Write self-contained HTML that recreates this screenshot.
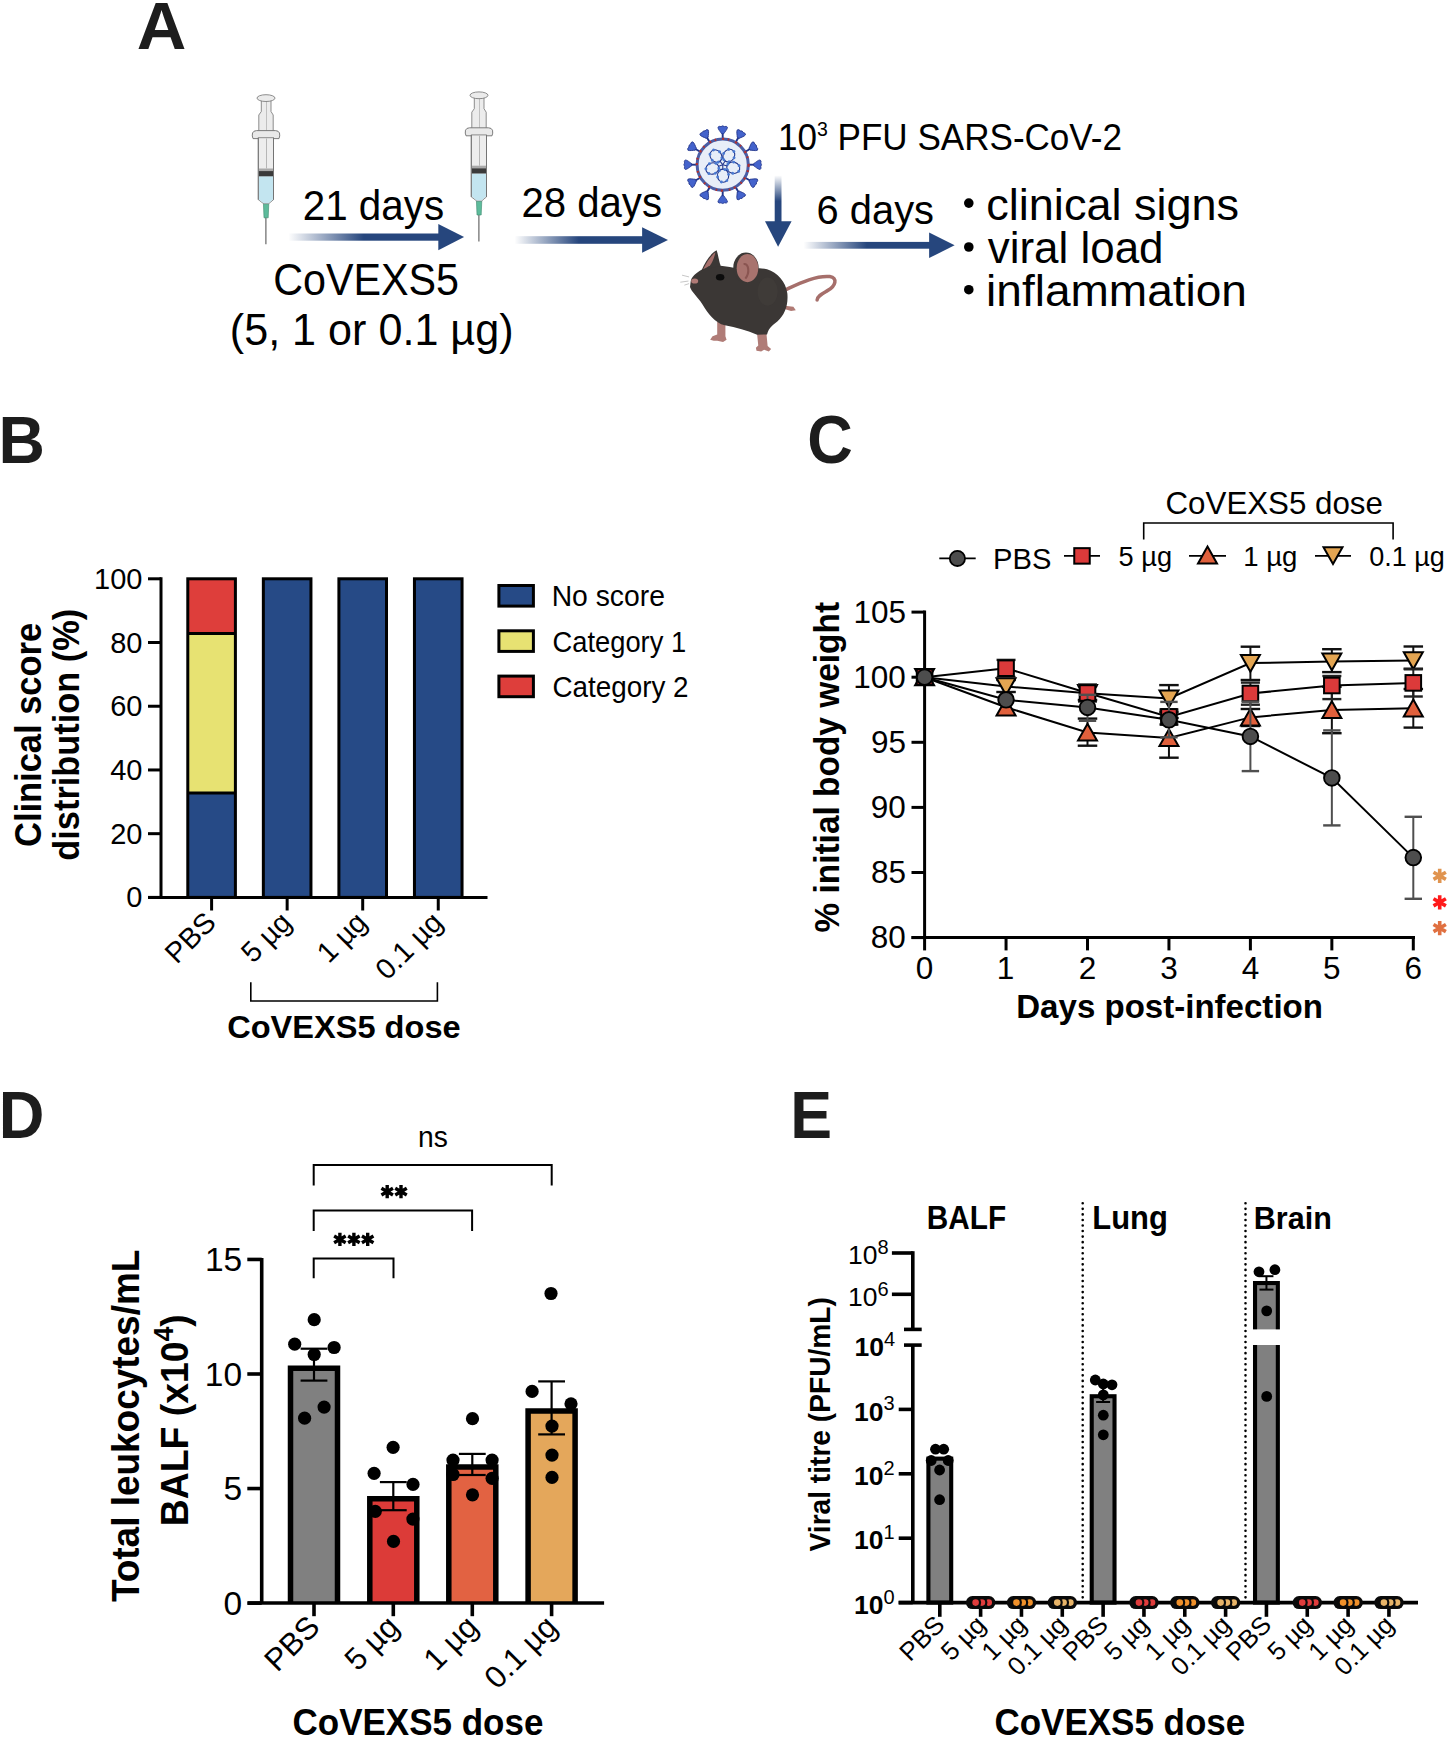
<!DOCTYPE html>
<html><head><meta charset="utf-8"><style>
html,body{margin:0;padding:0;background:#fff;}
svg{display:block;font-family:'Liberation Sans',sans-serif;}
</style></head><body>
<svg width="1450" height="1738" viewBox="0 0 1450 1738" style="font-family:&quot;Liberation Sans&quot;,sans-serif">
<rect width="1450" height="1738" fill="#fff"/>
<text x="136.88" y="49.00" font-size="66.96" font-weight="bold" fill="#1d1d1d" textLength="49.58" lengthAdjust="spacingAndGlyphs">A</text>
<text x="-1.38" y="462.80" font-size="67.39" font-weight="bold" fill="#1d1d1d" textLength="46.41" lengthAdjust="spacingAndGlyphs">B</text>
<text x="807.18" y="462.72" font-size="67.89" font-weight="bold" fill="#1d1d1d" textLength="45.54" lengthAdjust="spacingAndGlyphs">C</text>
<text x="-1.31" y="1137.90" font-size="67.10" font-weight="bold" fill="#1d1d1d" textLength="45.68" lengthAdjust="spacingAndGlyphs">D</text>
<text x="790.33" y="1137.70" font-size="66.52" font-weight="bold" fill="#1d1d1d" textLength="41.79" lengthAdjust="spacingAndGlyphs">E</text>
<defs>
<linearGradient id="gH" x1="0" y1="0" x2="1" y2="0"><stop offset="0" stop-color="#26467d" stop-opacity="0"/><stop offset="0.5" stop-color="#26467d" stop-opacity="1"/><stop offset="1" stop-color="#26467d" stop-opacity="1"/></linearGradient>
<linearGradient id="gV" x1="0" y1="0" x2="0" y2="1"><stop offset="0" stop-color="#26467d" stop-opacity="0"/><stop offset="0.55" stop-color="#26467d" stop-opacity="1"/><stop offset="1" stop-color="#26467d" stop-opacity="1"/></linearGradient>
<g id="syr">
<line x1="265.9" y1="216" x2="265.9" y2="244.2" stroke="#5a5a5a" stroke-width="1.1"/>
<path d="M263.4,203.2 L268.8,203.2 L268.2,217.8 L264.0,217.8 Z" fill="#5dbb9b" stroke="#3d8a6e" stroke-width="0.6"/>
<path d="M261.3,100.5 L271,100.5 L271,111.5 L273.2,115 L273.2,131.5 L258.8,131.5 L258.8,115 L261.3,111.5 Z" fill="#ececec" stroke="#727272" stroke-width="0.8"/>
<line x1="266.5" y1="101" x2="266.5" y2="171" stroke="#b5b5b5" stroke-width="0.8"/>
<path d="M253,138.6 Q251.8,136 252.5,133 Q253.4,130.7 256.5,130.6 L275.5,130.6 Q278.6,130.7 279.5,133 Q280.2,136 279,138.6 Z" fill="#e9e9e9" stroke="#6f6f6f" stroke-width="0.9"/>
<path d="M258.3,137.7 L273.5,137.7 L273.5,199.7 L268.6,203.7 L263.7,203.7 L258.3,199.7 Z" fill="#ededed" stroke="#727272" stroke-width="0.8"/>
<path d="M258.8,176.3 L273,176.3 L273,199.4 L268.5,203.3 L263.8,203.3 L258.8,199.4 Z" fill="#c3e5f0"/>
<rect x="258.8" y="170.9" width="14.2" height="5.4" fill="#3a3a3a"/>
<rect x="258.8" y="168.5" width="14.2" height="2.6" fill="#a9a9a9"/>
<line x1="266.5" y1="138.5" x2="266.5" y2="168.5" stroke="#b0b0b0" stroke-width="0.9"/>
<line x1="258.3" y1="137.7" x2="258.3" y2="199.7" stroke="#727272" stroke-width="0.9"/>
<line x1="273.5" y1="137.7" x2="273.5" y2="199.7" stroke="#727272" stroke-width="0.9"/>
<ellipse cx="266" cy="98.1" rx="9" ry="3.4" fill="#ebebeb" stroke="#727272" stroke-width="0.8"/>
</g>
</defs>
<use href="#syr"/>
<use href="#syr" transform="translate(213,-2.8)"/>
<rect x="288.3" y="233.50" width="151.00" height="7.2" fill="url(#gH)"/>
<path d="M438.3,224.00 L464.1,237.10 L438.3,250.20 Z" fill="#26467d"/>
<rect x="514.5" y="236.20" width="128.60" height="7.6" fill="url(#gH)"/>
<path d="M642.1,227.20 L668.0,240.00 L642.1,252.80 Z" fill="#26467d"/>
<rect x="803.6" y="241.90" width="126.50" height="6.8" fill="url(#gH)"/>
<path d="M929.1,232.50 L954.6,245.30 L929.1,258.10 Z" fill="#26467d"/>
<rect x="774.70" y="175.3" width="6.8" height="47.00" fill="url(#gV)"/>
<path d="M765,221.3 L778.1,246.7 L791.6,221.3 Z" fill="#26467d"/>
<g transform="translate(722.7,164.7) rotate(0)"><line x1="0" y1="-26" x2="0" y2="-32" stroke="#22358a" stroke-width="1.9"/><path d="M-1.1,-31 C-2.2,-33 -4.6,-35 -4.8,-37.4 Q-3.8,-39 -1.7,-38.1 Q0,-39.6 1.7,-38.1 Q3.8,-39 4.8,-37.4 C4.6,-35 2.2,-33 1.1,-31 Z" fill="#4463cc" stroke="#22358a" stroke-width="0.8" stroke-linejoin="round"/></g><g transform="translate(722.7,164.7) rotate(30)"><line x1="0" y1="-26" x2="0" y2="-32" stroke="#22358a" stroke-width="1.9"/><path d="M-1.1,-31 C-2.2,-33 -4.6,-35 -4.8,-37.4 Q-3.8,-39 -1.7,-38.1 Q0,-39.6 1.7,-38.1 Q3.8,-39 4.8,-37.4 C4.6,-35 2.2,-33 1.1,-31 Z" fill="#4463cc" stroke="#22358a" stroke-width="0.8" stroke-linejoin="round"/></g><g transform="translate(722.7,164.7) rotate(60)"><line x1="0" y1="-26" x2="0" y2="-32" stroke="#22358a" stroke-width="1.9"/><path d="M-1.1,-31 C-2.2,-33 -4.6,-35 -4.8,-37.4 Q-3.8,-39 -1.7,-38.1 Q0,-39.6 1.7,-38.1 Q3.8,-39 4.8,-37.4 C4.6,-35 2.2,-33 1.1,-31 Z" fill="#4463cc" stroke="#22358a" stroke-width="0.8" stroke-linejoin="round"/></g><g transform="translate(722.7,164.7) rotate(90)"><line x1="0" y1="-26" x2="0" y2="-32" stroke="#22358a" stroke-width="1.9"/><path d="M-1.1,-31 C-2.2,-33 -4.6,-35 -4.8,-37.4 Q-3.8,-39 -1.7,-38.1 Q0,-39.6 1.7,-38.1 Q3.8,-39 4.8,-37.4 C4.6,-35 2.2,-33 1.1,-31 Z" fill="#4463cc" stroke="#22358a" stroke-width="0.8" stroke-linejoin="round"/></g><g transform="translate(722.7,164.7) rotate(120)"><line x1="0" y1="-26" x2="0" y2="-32" stroke="#22358a" stroke-width="1.9"/><path d="M-1.1,-31 C-2.2,-33 -4.6,-35 -4.8,-37.4 Q-3.8,-39 -1.7,-38.1 Q0,-39.6 1.7,-38.1 Q3.8,-39 4.8,-37.4 C4.6,-35 2.2,-33 1.1,-31 Z" fill="#4463cc" stroke="#22358a" stroke-width="0.8" stroke-linejoin="round"/></g><g transform="translate(722.7,164.7) rotate(150)"><line x1="0" y1="-26" x2="0" y2="-32" stroke="#22358a" stroke-width="1.9"/><path d="M-1.1,-31 C-2.2,-33 -4.6,-35 -4.8,-37.4 Q-3.8,-39 -1.7,-38.1 Q0,-39.6 1.7,-38.1 Q3.8,-39 4.8,-37.4 C4.6,-35 2.2,-33 1.1,-31 Z" fill="#4463cc" stroke="#22358a" stroke-width="0.8" stroke-linejoin="round"/></g><g transform="translate(722.7,164.7) rotate(180)"><line x1="0" y1="-26" x2="0" y2="-32" stroke="#22358a" stroke-width="1.9"/><path d="M-1.1,-31 C-2.2,-33 -4.6,-35 -4.8,-37.4 Q-3.8,-39 -1.7,-38.1 Q0,-39.6 1.7,-38.1 Q3.8,-39 4.8,-37.4 C4.6,-35 2.2,-33 1.1,-31 Z" fill="#4463cc" stroke="#22358a" stroke-width="0.8" stroke-linejoin="round"/></g><g transform="translate(722.7,164.7) rotate(210)"><line x1="0" y1="-26" x2="0" y2="-32" stroke="#22358a" stroke-width="1.9"/><path d="M-1.1,-31 C-2.2,-33 -4.6,-35 -4.8,-37.4 Q-3.8,-39 -1.7,-38.1 Q0,-39.6 1.7,-38.1 Q3.8,-39 4.8,-37.4 C4.6,-35 2.2,-33 1.1,-31 Z" fill="#4463cc" stroke="#22358a" stroke-width="0.8" stroke-linejoin="round"/></g><g transform="translate(722.7,164.7) rotate(240)"><line x1="0" y1="-26" x2="0" y2="-32" stroke="#22358a" stroke-width="1.9"/><path d="M-1.1,-31 C-2.2,-33 -4.6,-35 -4.8,-37.4 Q-3.8,-39 -1.7,-38.1 Q0,-39.6 1.7,-38.1 Q3.8,-39 4.8,-37.4 C4.6,-35 2.2,-33 1.1,-31 Z" fill="#4463cc" stroke="#22358a" stroke-width="0.8" stroke-linejoin="round"/></g><g transform="translate(722.7,164.7) rotate(270)"><line x1="0" y1="-26" x2="0" y2="-32" stroke="#22358a" stroke-width="1.9"/><path d="M-1.1,-31 C-2.2,-33 -4.6,-35 -4.8,-37.4 Q-3.8,-39 -1.7,-38.1 Q0,-39.6 1.7,-38.1 Q3.8,-39 4.8,-37.4 C4.6,-35 2.2,-33 1.1,-31 Z" fill="#4463cc" stroke="#22358a" stroke-width="0.8" stroke-linejoin="round"/></g><g transform="translate(722.7,164.7) rotate(300)"><line x1="0" y1="-26" x2="0" y2="-32" stroke="#22358a" stroke-width="1.9"/><path d="M-1.1,-31 C-2.2,-33 -4.6,-35 -4.8,-37.4 Q-3.8,-39 -1.7,-38.1 Q0,-39.6 1.7,-38.1 Q3.8,-39 4.8,-37.4 C4.6,-35 2.2,-33 1.1,-31 Z" fill="#4463cc" stroke="#22358a" stroke-width="0.8" stroke-linejoin="round"/></g><g transform="translate(722.7,164.7) rotate(330)"><line x1="0" y1="-26" x2="0" y2="-32" stroke="#22358a" stroke-width="1.9"/><path d="M-1.1,-31 C-2.2,-33 -4.6,-35 -4.8,-37.4 Q-3.8,-39 -1.7,-38.1 Q0,-39.6 1.7,-38.1 Q3.8,-39 4.8,-37.4 C4.6,-35 2.2,-33 1.1,-31 Z" fill="#4463cc" stroke="#22358a" stroke-width="0.8" stroke-linejoin="round"/></g>
<circle cx="722.7" cy="164.7" r="25.6" fill="#e8eef8" stroke="#4a5ea6" stroke-width="3"/>
<circle cx="722.7" cy="164.7" r="25.9" fill="none" stroke="#b3302e" stroke-width="2.2" stroke-dasharray="2.2 3.6 1.6 6"/>
<g transform="translate(722.7,164.7) rotate(-128)"><path d="M0,0 L5,0" stroke="#23368c" stroke-width="1.1"/><ellipse cx="11" cy="0" rx="6.6" ry="5.6" fill="none" stroke="#23368c" stroke-width="1.1"/><circle cx="17.20" cy="1.92" r="1.45" fill="#4a7ad2"/><circle cx="12.15" cy="5.51" r="1.45" fill="#4a7ad2"/><circle cx="5.94" cy="3.60" r="1.45" fill="#4a7ad2"/><circle cx="4.80" cy="-1.92" r="1.45" fill="#4a7ad2"/><circle cx="9.85" cy="-5.51" r="1.45" fill="#4a7ad2"/><circle cx="16.06" cy="-3.60" r="1.45" fill="#4a7ad2"/></g><g transform="translate(722.7,164.7) rotate(-56)"><path d="M0,0 L5,0" stroke="#23368c" stroke-width="1.1"/><ellipse cx="11" cy="0" rx="6.6" ry="5.6" fill="none" stroke="#23368c" stroke-width="1.1"/><circle cx="17.20" cy="1.92" r="1.45" fill="#4a7ad2"/><circle cx="12.15" cy="5.51" r="1.45" fill="#4a7ad2"/><circle cx="5.94" cy="3.60" r="1.45" fill="#4a7ad2"/><circle cx="4.80" cy="-1.92" r="1.45" fill="#4a7ad2"/><circle cx="9.85" cy="-5.51" r="1.45" fill="#4a7ad2"/><circle cx="16.06" cy="-3.60" r="1.45" fill="#4a7ad2"/></g><g transform="translate(722.7,164.7) rotate(16)"><path d="M0,0 L5,0" stroke="#23368c" stroke-width="1.1"/><ellipse cx="11" cy="0" rx="6.6" ry="5.6" fill="none" stroke="#23368c" stroke-width="1.1"/><circle cx="17.20" cy="1.92" r="1.45" fill="#4a7ad2"/><circle cx="12.15" cy="5.51" r="1.45" fill="#4a7ad2"/><circle cx="5.94" cy="3.60" r="1.45" fill="#4a7ad2"/><circle cx="4.80" cy="-1.92" r="1.45" fill="#4a7ad2"/><circle cx="9.85" cy="-5.51" r="1.45" fill="#4a7ad2"/><circle cx="16.06" cy="-3.60" r="1.45" fill="#4a7ad2"/></g><g transform="translate(722.7,164.7) rotate(88)"><path d="M0,0 L5,0" stroke="#23368c" stroke-width="1.1"/><ellipse cx="11" cy="0" rx="6.6" ry="5.6" fill="none" stroke="#23368c" stroke-width="1.1"/><circle cx="17.20" cy="1.92" r="1.45" fill="#4a7ad2"/><circle cx="12.15" cy="5.51" r="1.45" fill="#4a7ad2"/><circle cx="5.94" cy="3.60" r="1.45" fill="#4a7ad2"/><circle cx="4.80" cy="-1.92" r="1.45" fill="#4a7ad2"/><circle cx="9.85" cy="-5.51" r="1.45" fill="#4a7ad2"/><circle cx="16.06" cy="-3.60" r="1.45" fill="#4a7ad2"/></g><g transform="translate(722.7,164.7) rotate(160)"><path d="M0,0 L5,0" stroke="#23368c" stroke-width="1.1"/><ellipse cx="11" cy="0" rx="6.6" ry="5.6" fill="none" stroke="#23368c" stroke-width="1.1"/><circle cx="17.20" cy="1.92" r="1.45" fill="#4a7ad2"/><circle cx="12.15" cy="5.51" r="1.45" fill="#4a7ad2"/><circle cx="5.94" cy="3.60" r="1.45" fill="#4a7ad2"/><circle cx="4.80" cy="-1.92" r="1.45" fill="#4a7ad2"/><circle cx="9.85" cy="-5.51" r="1.45" fill="#4a7ad2"/><circle cx="16.06" cy="-3.60" r="1.45" fill="#4a7ad2"/></g>
<g transform="translate(675,240) scale(0.11725)">
<path d="M940,425 C1050,375 1200,300 1320,312 C1390,322 1372,392 1300,432 C1255,458 1212,478 1212,512" fill="none" stroke="#a66f6b" stroke-width="30" stroke-linecap="round"/>
<path d="M935,560 L1010,570 L1030,600 L990,605 L940,590 Z" fill="#b07a74"/>
<path d="M700,800 L780,800 L790,905 L820,930 L800,950 L760,935 L735,950 L695,945 L690,920 L710,900 Z" fill="#b07c77"/>
<path d="M360,700 L430,700 L430,820 L440,850 L410,870 L360,860 L330,860 L300,850 L320,820 L360,805 Z" fill="#b07c77"/>
<path d="M135,345 C150,300 200,262 255,240 L300,215 C380,212 450,228 510,238 C600,250 700,232 785,250 C875,280 945,355 958,455 C968,555 935,640 875,692 C840,722 800,742 785,805 L700,808 C620,775 520,745 425,728 C340,705 280,625 232,545 C192,482 140,442 128,400 Z" fill="#3b3735"/>
<path d="M225,262 C260,180 310,110 355,88 C370,130 375,185 390,220 C330,235 270,250 225,262 Z" fill="#3b3735"/>
<path d="M240,250 C270,185 310,130 345,105 C335,150 320,190 300,215 C280,228 260,240 240,250 Z" fill="#a66f6b"/>
<ellipse cx="605" cy="235" rx="108" ry="128" fill="#3b3735"/>
<ellipse cx="618" cy="240" rx="92" ry="120" fill="#a8736e"/>
<path d="M585,205 C630,200 640,280 600,330" fill="none" stroke="#8a5551" stroke-width="18"/>
<ellipse cx="790" cy="440" rx="85" ry="120" fill="#423d3b" opacity="0.7"/>
<ellipse cx="168" cy="350" rx="30" ry="22" fill="#b07a76"/>
<ellipse cx="385" cy="318" rx="36" ry="28" fill="#0c0c0c"/>
<path d="M60,300 L120,315 M45,360 L115,350 M80,385 L120,372" stroke="#888" stroke-width="4" fill="none"/>
</g>
<text x="302.78" y="219.70" font-size="42.00" font-weight="normal" fill="#000" textLength="141.33" lengthAdjust="spacingAndGlyphs">21 days</text>
<text x="521.39" y="216.90" font-size="42.00" font-weight="normal" fill="#000" textLength="140.61" lengthAdjust="spacingAndGlyphs">28 days</text>
<text x="816.61" y="223.60" font-size="41.00" font-weight="normal" fill="#000" textLength="117.44" lengthAdjust="spacingAndGlyphs">6 days</text>
<text x="778.0" y="150.2" font-size="37.8" fill="#000" textLength="344" lengthAdjust="spacingAndGlyphs">10<tspan font-size="21" dy="-14.1">3</tspan><tspan dy="14.1"> PFU SARS-CoV-2</tspan></text>
<text x="273.14" y="294.90" font-size="44.50" font-weight="normal" fill="#000" textLength="185.93" lengthAdjust="spacingAndGlyphs">CoVEXS5</text>
<text x="229.81" y="344.60" font-size="45.00" font-weight="normal" fill="#000" textLength="283.76" lengthAdjust="spacingAndGlyphs">(5, 1 or 0.1 µg)</text>
<circle cx="968.80" cy="203.10" r="4.80" fill="#000" stroke="none" stroke-width="0"/>
<text x="986.30" y="220.20" font-size="44.50" font-weight="normal" fill="#000" textLength="252.81" lengthAdjust="spacingAndGlyphs">clinical signs</text>
<circle cx="968.80" cy="247.00" r="4.80" fill="#000" stroke="none" stroke-width="0"/>
<text x="987.78" y="263.00" font-size="44.50" font-weight="normal" fill="#000" textLength="175.77" lengthAdjust="spacingAndGlyphs">viral load</text>
<circle cx="968.80" cy="289.70" r="4.80" fill="#000" stroke="none" stroke-width="0"/>
<text x="986.11" y="305.80" font-size="44.50" font-weight="normal" fill="#000" textLength="260.84" lengthAdjust="spacingAndGlyphs">inflammation</text>
<rect x="187.80" y="793.00" width="47.60" height="104.40" fill="#264a86" stroke="none" stroke-width="0"/>
<rect x="187.80" y="633.40" width="47.60" height="159.60" fill="#e7e272" stroke="none" stroke-width="0"/>
<rect x="187.80" y="578.80" width="47.60" height="54.60" fill="#de3e3b" stroke="none" stroke-width="0"/>
<line x1="187.80" y1="793.00" x2="235.40" y2="793.00" stroke="#000" stroke-width="3"/>
<line x1="187.80" y1="633.40" x2="235.40" y2="633.40" stroke="#000" stroke-width="3"/>
<rect x="187.80" y="578.80" width="47.60" height="318.60" fill="none" stroke="#000" stroke-width="3"/>
<rect x="263.35" y="578.80" width="47.60" height="318.60" fill="#264a86" stroke="#000" stroke-width="3"/>
<rect x="338.90" y="578.80" width="47.60" height="318.60" fill="#264a86" stroke="#000" stroke-width="3"/>
<rect x="414.45" y="578.80" width="47.60" height="318.60" fill="#264a86" stroke="#000" stroke-width="3"/>
<line x1="161.00" y1="577.30" x2="161.00" y2="898.90" stroke="#000" stroke-width="3" stroke-linecap="butt"/>
<line x1="148.00" y1="897.40" x2="161.00" y2="897.40" stroke="#000" stroke-width="3"/>
<line x1="148.00" y1="833.68" x2="161.00" y2="833.68" stroke="#000" stroke-width="3"/>
<line x1="148.00" y1="769.96" x2="161.00" y2="769.96" stroke="#000" stroke-width="3"/>
<line x1="148.00" y1="706.24" x2="161.00" y2="706.24" stroke="#000" stroke-width="3"/>
<line x1="148.00" y1="642.52" x2="161.00" y2="642.52" stroke="#000" stroke-width="3"/>
<line x1="148.00" y1="578.80" x2="161.00" y2="578.80" stroke="#000" stroke-width="3"/>
<line x1="148.00" y1="897.40" x2="487.50" y2="897.40" stroke="#000" stroke-width="3"/>
<line x1="211.60" y1="897.40" x2="211.60" y2="910.50" stroke="#000" stroke-width="3"/>
<line x1="287.15" y1="897.40" x2="287.15" y2="910.50" stroke="#000" stroke-width="3"/>
<line x1="362.70" y1="897.40" x2="362.70" y2="910.50" stroke="#000" stroke-width="3"/>
<line x1="438.25" y1="897.40" x2="438.25" y2="910.50" stroke="#000" stroke-width="3"/>
<text x="126.22" y="907.40" font-size="29.0" fill="#000">0</text>
<text x="110.13" y="843.68" font-size="29.0" fill="#000">20</text>
<text x="110.13" y="779.97" font-size="29.0" fill="#000">40</text>
<text x="110.13" y="716.25" font-size="29.0" fill="#000">60</text>
<text x="110.13" y="652.52" font-size="29.0" fill="#000">80</text>
<text x="94.03" y="588.80" font-size="29.0" fill="#000">100</text>
<text transform="translate(217.60,924.20) rotate(-45)" x="0" y="0" font-size="28.80" font-weight="normal" fill="#000" text-anchor="end">PBS</text>
<text transform="translate(293.15,924.20) rotate(-45)" x="0" y="0" font-size="28.80" font-weight="normal" fill="#000" text-anchor="end">5 µg</text>
<text transform="translate(368.70,924.20) rotate(-45)" x="0" y="0" font-size="28.80" font-weight="normal" fill="#000" text-anchor="end">1 µg</text>
<text transform="translate(444.25,924.20) rotate(-45)" x="0" y="0" font-size="28.80" font-weight="normal" fill="#000" text-anchor="end">0.1 µg</text>
<path d="M250.8,982.2 V1001 H437.4 V982.2" fill="none" stroke="#000" stroke-width="1.6"/>
<text x="227.20" y="1037.68" font-size="31.70" font-weight="bold" fill="#000" textLength="233.42" lengthAdjust="spacingAndGlyphs">CoVEXS5 dose</text>
<rect x="498.90" y="585.50" width="34.50" height="20.60" fill="#264a86" stroke="#000" stroke-width="3"/>
<text x="551.64" y="606.10" font-size="29.00" font-weight="normal" fill="#000" textLength="113.28" lengthAdjust="spacingAndGlyphs">No score</text>
<rect x="498.90" y="630.80" width="34.50" height="20.60" fill="#e7e272" stroke="#000" stroke-width="3"/>
<text x="552.54" y="651.60" font-size="29.00" font-weight="normal" fill="#000" textLength="133.54" lengthAdjust="spacingAndGlyphs">Category 1</text>
<rect x="498.90" y="676.10" width="34.50" height="20.60" fill="#de3e3b" stroke="#000" stroke-width="3"/>
<text x="552.51" y="697.00" font-size="29.00" font-weight="normal" fill="#000" textLength="136.03" lengthAdjust="spacingAndGlyphs">Category 2</text>
<text transform="translate(40.63,846.98) rotate(-90)" x="0" y="0" font-size="37.14" font-weight="bold" fill="#000" textLength="224.09" lengthAdjust="spacingAndGlyphs">Clinical score</text>
<text transform="translate(79.39,860.67) rotate(-90)" x="0" y="0" font-size="36.26" font-weight="bold" fill="#000" textLength="251.79" lengthAdjust="spacingAndGlyphs">distribution (%)</text>
<line x1="924.60" y1="610.60" x2="924.60" y2="939.10" stroke="#000" stroke-width="3"/>
<line x1="911.50" y1="937.60" x2="924.60" y2="937.60" stroke="#000" stroke-width="3"/>
<line x1="911.50" y1="872.50" x2="924.60" y2="872.50" stroke="#000" stroke-width="3"/>
<line x1="911.50" y1="807.40" x2="924.60" y2="807.40" stroke="#000" stroke-width="3"/>
<line x1="911.50" y1="742.30" x2="924.60" y2="742.30" stroke="#000" stroke-width="3"/>
<line x1="911.50" y1="677.20" x2="924.60" y2="677.20" stroke="#000" stroke-width="3"/>
<line x1="911.50" y1="612.10" x2="924.60" y2="612.10" stroke="#000" stroke-width="3"/>
<line x1="911.50" y1="937.60" x2="1415.00" y2="937.60" stroke="#000" stroke-width="3"/>
<line x1="924.60" y1="937.60" x2="924.60" y2="950.40" stroke="#000" stroke-width="3"/>
<line x1="1006.05" y1="937.60" x2="1006.05" y2="950.40" stroke="#000" stroke-width="3"/>
<line x1="1087.50" y1="937.60" x2="1087.50" y2="950.40" stroke="#000" stroke-width="3"/>
<line x1="1168.95" y1="937.60" x2="1168.95" y2="950.40" stroke="#000" stroke-width="3"/>
<line x1="1250.40" y1="937.60" x2="1250.40" y2="950.40" stroke="#000" stroke-width="3"/>
<line x1="1331.85" y1="937.60" x2="1331.85" y2="950.40" stroke="#000" stroke-width="3"/>
<line x1="1413.30" y1="937.60" x2="1413.30" y2="950.40" stroke="#000" stroke-width="3"/>
<text x="870.74" y="948.47" font-size="31.5" fill="#000">80</text>
<text x="870.89" y="883.37" font-size="31.5" fill="#000">85</text>
<text x="870.74" y="818.27" font-size="31.5" fill="#000">90</text>
<text x="870.89" y="753.17" font-size="31.5" fill="#000">95</text>
<text x="853.25" y="688.07" font-size="31.5" fill="#000">100</text>
<text x="853.41" y="622.97" font-size="31.5" fill="#000">105</text>
<text x="915.78" y="978.68" font-size="31.5" fill="#000">0</text>
<text x="996.84" y="979.00" font-size="31.5" fill="#000">1</text>
<text x="1078.76" y="979.00" font-size="31.5" fill="#000">2</text>
<text x="1160.21" y="978.68" font-size="31.5" fill="#000">3</text>
<text x="1241.82" y="979.00" font-size="31.5" fill="#000">4</text>
<text x="1323.11" y="978.68" font-size="31.5" fill="#000">5</text>
<text x="1404.40" y="978.68" font-size="31.5" fill="#000">6</text>
<text x="1016.25" y="1017.69" font-size="32.41" font-weight="bold" fill="#000" textLength="306.70" lengthAdjust="spacingAndGlyphs">Days post-infection</text>
<text transform="translate(838.70,932.54) rotate(-90)" x="0" y="0" font-size="34.76" font-weight="bold" fill="#000" textLength="330.61" lengthAdjust="spacingAndGlyphs">% initial body weight</text>
<line x1="1006.05" y1="680.00" x2="1006.05" y2="692.00" stroke="#111" stroke-width="2"/>
<line x1="996.30" y1="680.00" x2="1015.80" y2="680.00" stroke="#111" stroke-width="2.4"/>
<line x1="996.30" y1="692.00" x2="1015.80" y2="692.00" stroke="#111" stroke-width="2.4"/>
<line x1="1087.50" y1="686.00" x2="1087.50" y2="700.00" stroke="#111" stroke-width="2"/>
<line x1="1077.75" y1="686.00" x2="1097.25" y2="686.00" stroke="#111" stroke-width="2.4"/>
<line x1="1077.75" y1="700.00" x2="1097.25" y2="700.00" stroke="#111" stroke-width="2.4"/>
<line x1="1168.95" y1="685.10" x2="1168.95" y2="711.90" stroke="#111" stroke-width="2"/>
<line x1="1159.20" y1="685.10" x2="1178.70" y2="685.10" stroke="#111" stroke-width="2.4"/>
<line x1="1159.20" y1="711.90" x2="1178.70" y2="711.90" stroke="#111" stroke-width="2.4"/>
<line x1="1250.40" y1="646.70" x2="1250.40" y2="680.00" stroke="#111" stroke-width="2"/>
<line x1="1240.65" y1="646.70" x2="1260.15" y2="646.70" stroke="#111" stroke-width="2.4"/>
<line x1="1240.65" y1="680.00" x2="1260.15" y2="680.00" stroke="#111" stroke-width="2.4"/>
<line x1="1331.85" y1="649.20" x2="1331.85" y2="672.10" stroke="#111" stroke-width="2"/>
<line x1="1322.10" y1="649.20" x2="1341.60" y2="649.20" stroke="#111" stroke-width="2.4"/>
<line x1="1322.10" y1="672.10" x2="1341.60" y2="672.10" stroke="#111" stroke-width="2.4"/>
<line x1="1413.30" y1="646.50" x2="1413.30" y2="668.70" stroke="#111" stroke-width="2"/>
<line x1="1403.55" y1="646.50" x2="1423.05" y2="646.50" stroke="#111" stroke-width="2.4"/>
<line x1="1403.55" y1="668.70" x2="1423.05" y2="668.70" stroke="#111" stroke-width="2.4"/>
<polyline points="924.60,677.20 1006.05,686.40 1087.50,693.20 1168.95,698.50 1250.40,663.10 1331.85,661.60 1413.30,660.40" fill="none" stroke="#000" stroke-width="2"/>
<path d="M924.60,685.90 L934.10,669.10 L915.10,669.10 Z" fill="#e3a552" stroke="#000" stroke-width="2"/>
<path d="M1006.05,695.10 L1015.55,678.30 L996.55,678.30 Z" fill="#e3a552" stroke="#000" stroke-width="2"/>
<path d="M1087.50,701.90 L1097.00,685.10 L1078.00,685.10 Z" fill="#e3a552" stroke="#000" stroke-width="2"/>
<path d="M1168.95,707.20 L1178.45,690.40 L1159.45,690.40 Z" fill="#e3a552" stroke="#000" stroke-width="2"/>
<path d="M1250.40,671.80 L1259.90,655.00 L1240.90,655.00 Z" fill="#e3a552" stroke="#000" stroke-width="2"/>
<path d="M1331.85,670.30 L1341.35,653.50 L1322.35,653.50 Z" fill="#e3a552" stroke="#000" stroke-width="2"/>
<path d="M1413.30,669.10 L1422.80,652.30 L1403.80,652.30 Z" fill="#e3a552" stroke="#000" stroke-width="2"/>
<line x1="1087.50" y1="718.60" x2="1087.50" y2="745.70" stroke="#111" stroke-width="2"/>
<line x1="1077.75" y1="718.60" x2="1097.25" y2="718.60" stroke="#111" stroke-width="2.4"/>
<line x1="1077.75" y1="745.70" x2="1097.25" y2="745.70" stroke="#111" stroke-width="2.4"/>
<line x1="1168.95" y1="718.00" x2="1168.95" y2="757.70" stroke="#111" stroke-width="2"/>
<line x1="1159.20" y1="718.00" x2="1178.70" y2="718.00" stroke="#111" stroke-width="2.4"/>
<line x1="1159.20" y1="757.70" x2="1178.70" y2="757.70" stroke="#111" stroke-width="2.4"/>
<line x1="1250.40" y1="709.00" x2="1250.40" y2="726.00" stroke="#111" stroke-width="2"/>
<line x1="1240.65" y1="709.00" x2="1260.15" y2="709.00" stroke="#111" stroke-width="2.4"/>
<line x1="1240.65" y1="726.00" x2="1260.15" y2="726.00" stroke="#111" stroke-width="2.4"/>
<line x1="1331.85" y1="686.80" x2="1331.85" y2="733.20" stroke="#111" stroke-width="2"/>
<line x1="1322.10" y1="686.80" x2="1341.60" y2="686.80" stroke="#111" stroke-width="2.4"/>
<line x1="1322.10" y1="733.20" x2="1341.60" y2="733.20" stroke="#111" stroke-width="2.4"/>
<line x1="1413.30" y1="689.00" x2="1413.30" y2="727.60" stroke="#111" stroke-width="2"/>
<line x1="1403.55" y1="689.00" x2="1423.05" y2="689.00" stroke="#111" stroke-width="2.4"/>
<line x1="1403.55" y1="727.60" x2="1423.05" y2="727.60" stroke="#111" stroke-width="2.4"/>
<polyline points="924.60,677.20 1006.05,707.30 1087.50,732.50 1168.95,738.00 1250.40,717.40 1331.85,710.00 1413.30,708.30" fill="none" stroke="#000" stroke-width="2"/>
<path d="M924.60,668.50 L934.10,685.30 L915.10,685.30 Z" fill="#e0603c" stroke="#000" stroke-width="2"/>
<path d="M1006.05,698.60 L1015.55,715.40 L996.55,715.40 Z" fill="#e0603c" stroke="#000" stroke-width="2"/>
<path d="M1087.50,723.80 L1097.00,740.60 L1078.00,740.60 Z" fill="#e0603c" stroke="#000" stroke-width="2"/>
<path d="M1168.95,729.30 L1178.45,746.10 L1159.45,746.10 Z" fill="#e0603c" stroke="#000" stroke-width="2"/>
<path d="M1250.40,708.70 L1259.90,725.50 L1240.90,725.50 Z" fill="#e0603c" stroke="#000" stroke-width="2"/>
<path d="M1331.85,701.30 L1341.35,718.10 L1322.35,718.10 Z" fill="#e0603c" stroke="#000" stroke-width="2"/>
<path d="M1413.30,699.60 L1422.80,716.40 L1403.80,716.40 Z" fill="#e0603c" stroke="#000" stroke-width="2"/>
<line x1="1006.05" y1="659.90" x2="1006.05" y2="677.00" stroke="#222" stroke-width="2"/>
<line x1="996.55" y1="659.90" x2="1015.55" y2="659.90" stroke="#222" stroke-width="2.4"/>
<line x1="996.55" y1="677.00" x2="1015.55" y2="677.00" stroke="#222" stroke-width="2.4"/>
<line x1="1087.50" y1="684.50" x2="1087.50" y2="701.50" stroke="#222" stroke-width="2"/>
<line x1="1078.00" y1="684.50" x2="1097.00" y2="684.50" stroke="#222" stroke-width="2.4"/>
<line x1="1078.00" y1="701.50" x2="1097.00" y2="701.50" stroke="#222" stroke-width="2.4"/>
<line x1="1168.95" y1="709.50" x2="1168.95" y2="724.50" stroke="#222" stroke-width="2"/>
<line x1="1159.45" y1="709.50" x2="1178.45" y2="709.50" stroke="#222" stroke-width="2.4"/>
<line x1="1159.45" y1="724.50" x2="1178.45" y2="724.50" stroke="#222" stroke-width="2.4"/>
<line x1="1250.40" y1="682.60" x2="1250.40" y2="704.70" stroke="#222" stroke-width="2"/>
<line x1="1240.90" y1="682.60" x2="1259.90" y2="682.60" stroke="#222" stroke-width="2.4"/>
<line x1="1240.90" y1="704.70" x2="1259.90" y2="704.70" stroke="#222" stroke-width="2.4"/>
<line x1="1331.85" y1="676.00" x2="1331.85" y2="699.10" stroke="#222" stroke-width="2"/>
<line x1="1322.35" y1="676.00" x2="1341.35" y2="676.00" stroke="#222" stroke-width="2.4"/>
<line x1="1322.35" y1="699.10" x2="1341.35" y2="699.10" stroke="#222" stroke-width="2.4"/>
<line x1="1413.30" y1="669.30" x2="1413.30" y2="696.50" stroke="#222" stroke-width="2"/>
<line x1="1403.80" y1="669.30" x2="1422.80" y2="669.30" stroke="#222" stroke-width="2.4"/>
<line x1="1403.80" y1="696.50" x2="1422.80" y2="696.50" stroke="#222" stroke-width="2.4"/>
<polyline points="924.60,677.20 1006.05,668.20 1087.50,693.00 1168.95,716.90 1250.40,693.50 1331.85,685.50 1413.30,682.90" fill="none" stroke="#000" stroke-width="2"/>
<rect x="916.80" y="669.40" width="15.60" height="15.60" fill="#dc3a3a" stroke="#000" stroke-width="2"/>
<rect x="998.25" y="660.40" width="15.60" height="15.60" fill="#dc3a3a" stroke="#000" stroke-width="2"/>
<rect x="1079.70" y="685.20" width="15.60" height="15.60" fill="#dc3a3a" stroke="#000" stroke-width="2"/>
<rect x="1161.15" y="709.10" width="15.60" height="15.60" fill="#dc3a3a" stroke="#000" stroke-width="2"/>
<rect x="1242.60" y="685.70" width="15.60" height="15.60" fill="#dc3a3a" stroke="#000" stroke-width="2"/>
<rect x="1324.05" y="677.70" width="15.60" height="15.60" fill="#dc3a3a" stroke="#000" stroke-width="2"/>
<rect x="1405.50" y="675.10" width="15.60" height="15.60" fill="#dc3a3a" stroke="#000" stroke-width="2"/>
<line x1="1087.50" y1="694.80" x2="1087.50" y2="720.80" stroke="#4f4f4f" stroke-width="2"/>
<line x1="1078.80" y1="694.80" x2="1096.20" y2="694.80" stroke="#4f4f4f" stroke-width="2.4"/>
<line x1="1078.80" y1="720.80" x2="1096.20" y2="720.80" stroke="#4f4f4f" stroke-width="2.4"/>
<line x1="1168.95" y1="701.90" x2="1168.95" y2="737.30" stroke="#4f4f4f" stroke-width="2"/>
<line x1="1160.25" y1="701.90" x2="1177.65" y2="701.90" stroke="#4f4f4f" stroke-width="2.4"/>
<line x1="1160.25" y1="737.30" x2="1177.65" y2="737.30" stroke="#4f4f4f" stroke-width="2.4"/>
<line x1="1250.40" y1="701.70" x2="1250.40" y2="771.10" stroke="#4f4f4f" stroke-width="2"/>
<line x1="1241.70" y1="701.70" x2="1259.10" y2="701.70" stroke="#4f4f4f" stroke-width="2.4"/>
<line x1="1241.70" y1="771.10" x2="1259.10" y2="771.10" stroke="#4f4f4f" stroke-width="2.4"/>
<line x1="1331.85" y1="730.40" x2="1331.85" y2="825.40" stroke="#4f4f4f" stroke-width="2"/>
<line x1="1323.15" y1="730.40" x2="1340.55" y2="730.40" stroke="#4f4f4f" stroke-width="2.4"/>
<line x1="1323.15" y1="825.40" x2="1340.55" y2="825.40" stroke="#4f4f4f" stroke-width="2.4"/>
<line x1="1413.30" y1="816.80" x2="1413.30" y2="898.80" stroke="#4f4f4f" stroke-width="2"/>
<line x1="1404.60" y1="816.80" x2="1422.00" y2="816.80" stroke="#4f4f4f" stroke-width="2.4"/>
<line x1="1404.60" y1="898.80" x2="1422.00" y2="898.80" stroke="#4f4f4f" stroke-width="2.4"/>
<polyline points="924.60,677.20 1006.05,699.80 1087.50,707.40 1168.95,719.80 1250.40,736.40 1331.85,777.90 1413.30,857.60" fill="none" stroke="#000" stroke-width="2"/>
<circle cx="924.60" cy="677.20" r="7.80" fill="#4d4d4d" stroke="#000" stroke-width="1.9"/>
<circle cx="1006.05" cy="699.80" r="7.80" fill="#4d4d4d" stroke="#000" stroke-width="1.9"/>
<circle cx="1087.50" cy="707.40" r="7.80" fill="#4d4d4d" stroke="#000" stroke-width="1.9"/>
<circle cx="1168.95" cy="719.80" r="7.80" fill="#4d4d4d" stroke="#000" stroke-width="1.9"/>
<circle cx="1250.40" cy="736.40" r="7.80" fill="#4d4d4d" stroke="#000" stroke-width="1.9"/>
<circle cx="1331.85" cy="777.90" r="7.80" fill="#4d4d4d" stroke="#000" stroke-width="1.9"/>
<circle cx="1413.30" cy="857.60" r="7.80" fill="#4d4d4d" stroke="#000" stroke-width="1.9"/>
<path d="M1439.70,868.65 L1439.70,882.95 M1433.51,872.22 L1445.89,879.38 M1445.89,872.22 L1433.51,879.38 " stroke="#e0944f" stroke-width="3.6" fill="none"/>
<path d="M1439.70,895.15 L1439.70,909.45 M1433.51,898.72 L1445.89,905.88 M1445.89,898.72 L1433.51,905.88 " stroke="#ff1a1a" stroke-width="3.6" fill="none"/>
<path d="M1439.70,920.95 L1439.70,935.25 M1433.51,924.52 L1445.89,931.68 M1445.89,924.52 L1433.51,931.68 " stroke="#e07040" stroke-width="3.6" fill="none"/>
<line x1="939.30" y1="558.40" x2="975.70" y2="558.40" stroke="#000" stroke-width="1.8"/>
<circle cx="957.40" cy="558.40" r="7.60" fill="#4d4d4d" stroke="#000" stroke-width="1.8"/>
<text x="993.07" y="568.51" font-size="29.15" font-weight="normal" fill="#000">PBS</text>
<line x1="1064.00" y1="555.80" x2="1100.00" y2="555.80" stroke="#000" stroke-width="1.8"/>
<rect x="1074.25" y="548.15" width="15.50" height="15.50" fill="#dc3a3a" stroke="#000" stroke-width="2"/>
<text x="1118.61" y="565.71" font-size="27.56" font-weight="normal" fill="#000" textLength="53.49" lengthAdjust="spacingAndGlyphs">5 µg</text>
<line x1="1189.00" y1="555.80" x2="1226.00" y2="555.80" stroke="#000" stroke-width="1.8"/>
<path d="M1207.50,546.60 L1217.00,563.40 L1198.00,563.40 Z" fill="#e0603c" stroke="#000" stroke-width="2"/>
<text x="1243.23" y="565.71" font-size="27.56" font-weight="normal" fill="#000">1 µg</text>
<line x1="1315.00" y1="555.80" x2="1351.00" y2="555.80" stroke="#000" stroke-width="1.8"/>
<path d="M1333.00,564.00 L1342.50,547.20 L1323.50,547.20 Z" fill="#e3a552" stroke="#000" stroke-width="2"/>
<text x="1369.22" y="565.78" font-size="27.25" font-weight="normal" fill="#000" textLength="75.54" lengthAdjust="spacingAndGlyphs">0.1 µg</text>
<path d="M1143.7,539.6 V523 H1393.1 V539.6" fill="none" stroke="#000" stroke-width="1.6"/>
<text x="1165.54" y="513.99" font-size="31.29" font-weight="normal" fill="#000">CoVEXS5 dose</text>
<rect x="290.50" y="1368.35" width="47.00" height="234.75" fill="#808080" stroke="none" stroke-width="0"/>
<path d="M290.50,1602.10 V1368.35 H337.50 V1602.10" fill="none" stroke="#000" stroke-width="5.5"/>
<rect x="369.80" y="1498.85" width="47.00" height="104.25" fill="#dc3b38" stroke="none" stroke-width="0"/>
<path d="M369.80,1602.10 V1498.85 H416.80 V1602.10" fill="none" stroke="#000" stroke-width="5.5"/>
<rect x="448.80" y="1466.95" width="47.00" height="136.15" fill="#e26242" stroke="none" stroke-width="0"/>
<path d="M448.80,1602.10 V1466.95 H495.80 V1602.10" fill="none" stroke="#000" stroke-width="5.5"/>
<rect x="528.10" y="1411.05" width="47.00" height="192.05" fill="#e4a75b" stroke="none" stroke-width="0"/>
<path d="M528.10,1602.10 V1411.05 H575.10 V1602.10" fill="none" stroke="#000" stroke-width="5.5"/>
<line x1="314.00" y1="1348.70" x2="314.00" y2="1380.60" stroke="#000" stroke-width="2.2"/>
<line x1="300.60" y1="1348.70" x2="327.40" y2="1348.70" stroke="#000" stroke-width="2.2"/>
<line x1="300.60" y1="1380.60" x2="327.40" y2="1380.60" stroke="#000" stroke-width="2.2"/>
<line x1="393.30" y1="1482.10" x2="393.30" y2="1510.20" stroke="#000" stroke-width="2.2"/>
<line x1="379.90" y1="1482.10" x2="406.70" y2="1482.10" stroke="#000" stroke-width="2.2"/>
<line x1="379.90" y1="1510.20" x2="406.70" y2="1510.20" stroke="#000" stroke-width="2.2"/>
<line x1="472.30" y1="1453.90" x2="472.30" y2="1475.00" stroke="#000" stroke-width="2.2"/>
<line x1="458.90" y1="1453.90" x2="485.70" y2="1453.90" stroke="#000" stroke-width="2.2"/>
<line x1="458.90" y1="1475.00" x2="485.70" y2="1475.00" stroke="#000" stroke-width="2.2"/>
<line x1="551.60" y1="1381.40" x2="551.60" y2="1434.40" stroke="#000" stroke-width="2.2"/>
<line x1="538.20" y1="1381.40" x2="565.00" y2="1381.40" stroke="#000" stroke-width="2.2"/>
<line x1="538.20" y1="1434.40" x2="565.00" y2="1434.40" stroke="#000" stroke-width="2.2"/>
<circle cx="314.20" cy="1319.70" r="6.60" fill="#000" stroke="none" stroke-width="0"/>
<circle cx="294.70" cy="1344.20" r="6.60" fill="#000" stroke="none" stroke-width="0"/>
<circle cx="334.10" cy="1347.50" r="6.60" fill="#000" stroke="none" stroke-width="0"/>
<circle cx="314.20" cy="1354.50" r="6.60" fill="#000" stroke="none" stroke-width="0"/>
<circle cx="324.10" cy="1407.10" r="6.60" fill="#000" stroke="none" stroke-width="0"/>
<circle cx="304.60" cy="1418.20" r="6.60" fill="#000" stroke="none" stroke-width="0"/>
<circle cx="393.10" cy="1447.30" r="6.60" fill="#000" stroke="none" stroke-width="0"/>
<circle cx="374.10" cy="1473.30" r="6.60" fill="#000" stroke="none" stroke-width="0"/>
<circle cx="413.00" cy="1484.40" r="6.60" fill="#000" stroke="none" stroke-width="0"/>
<circle cx="375.30" cy="1511.30" r="6.60" fill="#000" stroke="none" stroke-width="0"/>
<circle cx="412.90" cy="1519.10" r="6.60" fill="#000" stroke="none" stroke-width="0"/>
<circle cx="393.50" cy="1541.40" r="6.60" fill="#000" stroke="none" stroke-width="0"/>
<circle cx="472.50" cy="1418.70" r="6.60" fill="#000" stroke="none" stroke-width="0"/>
<circle cx="453.00" cy="1460.10" r="6.60" fill="#000" stroke="none" stroke-width="0"/>
<circle cx="492.10" cy="1460.10" r="6.60" fill="#000" stroke="none" stroke-width="0"/>
<circle cx="453.00" cy="1474.50" r="6.60" fill="#000" stroke="none" stroke-width="0"/>
<circle cx="492.10" cy="1478.30" r="6.60" fill="#000" stroke="none" stroke-width="0"/>
<circle cx="472.50" cy="1494.80" r="6.60" fill="#000" stroke="none" stroke-width="0"/>
<circle cx="551.00" cy="1293.50" r="6.60" fill="#000" stroke="none" stroke-width="0"/>
<circle cx="532.10" cy="1391.40" r="6.60" fill="#000" stroke="none" stroke-width="0"/>
<circle cx="571.00" cy="1403.80" r="6.60" fill="#000" stroke="none" stroke-width="0"/>
<circle cx="552.00" cy="1426.10" r="6.60" fill="#000" stroke="none" stroke-width="0"/>
<circle cx="552.00" cy="1455.10" r="6.60" fill="#000" stroke="none" stroke-width="0"/>
<circle cx="552.00" cy="1477.40" r="6.60" fill="#000" stroke="none" stroke-width="0"/>
<line x1="261.70" y1="1257.95" x2="261.70" y2="1603.10" stroke="#000" stroke-width="3.6"/>
<line x1="247.30" y1="1603.10" x2="261.70" y2="1603.10" stroke="#000" stroke-width="3.6"/>
<line x1="247.30" y1="1488.55" x2="261.70" y2="1488.55" stroke="#000" stroke-width="3.6"/>
<line x1="247.30" y1="1374.00" x2="261.70" y2="1374.00" stroke="#000" stroke-width="3.6"/>
<line x1="247.30" y1="1259.45" x2="261.70" y2="1259.45" stroke="#000" stroke-width="3.6"/>
<line x1="247.80" y1="1603.10" x2="604.10" y2="1603.10" stroke="#000" stroke-width="3.5"/>
<line x1="314.00" y1="1603.10" x2="314.00" y2="1616.20" stroke="#000" stroke-width="3.6"/>
<line x1="393.30" y1="1603.10" x2="393.30" y2="1616.20" stroke="#000" stroke-width="3.6"/>
<line x1="472.30" y1="1603.10" x2="472.30" y2="1616.20" stroke="#000" stroke-width="3.6"/>
<line x1="551.60" y1="1603.10" x2="551.60" y2="1616.20" stroke="#000" stroke-width="3.6"/>
<text x="223.38" y="1614.66" font-size="33.5" fill="#000">0</text>
<text x="223.55" y="1499.94" font-size="33.5" fill="#000">5</text>
<text x="204.79" y="1385.56" font-size="33.5" fill="#000">10</text>
<text x="204.96" y="1270.84" font-size="33.5" fill="#000">15</text>
<text transform="translate(321.50,1628.80) rotate(-45)" x="0" y="0" font-size="31.20" font-weight="normal" fill="#000" text-anchor="end">PBS</text>
<text transform="translate(400.80,1628.80) rotate(-45)" x="0" y="0" font-size="31.20" font-weight="normal" fill="#000" text-anchor="end">5 µg</text>
<text transform="translate(479.80,1628.80) rotate(-45)" x="0" y="0" font-size="31.20" font-weight="normal" fill="#000" text-anchor="end">1 µg</text>
<text transform="translate(559.10,1628.80) rotate(-45)" x="0" y="0" font-size="31.20" font-weight="normal" fill="#000" text-anchor="end">0.1 µg</text>
<text x="292.50" y="1734.94" font-size="36.46" font-weight="bold" fill="#000" textLength="250.90" lengthAdjust="spacingAndGlyphs">CoVEXS5 dose</text>
<path d="M313.7,1278.3 V1258.5 H393.5 V1278.3" fill="none" stroke="#000" stroke-width="2"/>
<path d="M313.7,1231.1 V1210.5 H472.1 V1231.1" fill="none" stroke="#000" stroke-width="2"/>
<path d="M313.7,1185.4 V1164.9 H551.7 V1185.4" fill="none" stroke="#000" stroke-width="2"/>
<text x="417.96" y="1147.01" font-size="29.27" font-weight="normal" fill="#000" textLength="29.86" lengthAdjust="spacingAndGlyphs">ns</text>
<text transform="translate(139.30,1602.07) rotate(-90)" x="0" y="0" font-size="38.80" font-weight="bold" fill="#000" textLength="352.37" lengthAdjust="spacingAndGlyphs">Total leukocytes/mL</text>
<text transform="translate(188.1,1526.2) rotate(-90)" x="0" y="0" font-size="38.5" font-weight="bold" fill="#000" textLength="212" lengthAdjust="spacingAndGlyphs">BALF (x10<tspan font-size="27.5" dy="-14.7">4</tspan><tspan dy="14.7">)</tspan></text>
<path d="M339.90,1232.75 L339.90,1246.05 M334.14,1236.08 L345.66,1242.73 M345.66,1236.08 L334.14,1242.73 " stroke="#000" stroke-width="3.4" fill="none"/>
<path d="M353.90,1232.75 L353.90,1246.05 M348.14,1236.08 L359.66,1242.73 M359.66,1236.08 L348.14,1242.73 " stroke="#000" stroke-width="3.4" fill="none"/>
<path d="M367.70,1232.75 L367.70,1246.05 M361.94,1236.08 L373.46,1242.73 M373.46,1236.08 L361.94,1242.73 " stroke="#000" stroke-width="3.4" fill="none"/>
<path d="M387.20,1184.95 L387.20,1198.25 M381.44,1188.27 L392.96,1194.92 M392.96,1188.27 L381.44,1194.92 " stroke="#000" stroke-width="3.4" fill="none"/>
<path d="M401.00,1184.95 L401.00,1198.25 M395.24,1188.27 L406.76,1194.92 M406.76,1188.27 L395.24,1194.92 " stroke="#000" stroke-width="3.4" fill="none"/>
<line x1="1082.7" y1="1203.3" x2="1082.7" y2="1600" stroke="#000" stroke-width="2.6" stroke-dasharray="0 5.55" stroke-linecap="round"/>
<line x1="1245.5" y1="1203.3" x2="1245.5" y2="1600" stroke="#000" stroke-width="2.6" stroke-dasharray="0 5.55" stroke-linecap="round"/>
<rect x="928.40" y="1458.65" width="22.80" height="143.95" fill="#808080" stroke="#000" stroke-width="4.1"/>
<rect x="1091.72" y="1396.25" width="22.80" height="206.35" fill="#808080" stroke="#000" stroke-width="4.1"/>
<rect x="1255.04" y="1283.05" width="22.80" height="319.55" fill="#808080" stroke="#000" stroke-width="4.1"/>
<rect x="1250.44" y="1329.40" width="32.00" height="15.60" fill="#fff" stroke="none" stroke-width="0"/>
<line x1="1266.44" y1="1276.20" x2="1266.44" y2="1289.60" stroke="#000" stroke-width="2"/>
<line x1="1259.44" y1="1276.20" x2="1273.44" y2="1276.20" stroke="#000" stroke-width="2"/>
<line x1="1259.44" y1="1289.60" x2="1273.44" y2="1289.60" stroke="#000" stroke-width="2"/>
<line x1="1103.12" y1="1383.00" x2="1103.12" y2="1402.00" stroke="#000" stroke-width="2"/>
<line x1="1096.12" y1="1383.00" x2="1110.12" y2="1383.00" stroke="#000" stroke-width="2"/>
<line x1="1096.12" y1="1402.00" x2="1110.12" y2="1402.00" stroke="#000" stroke-width="2"/>
<circle cx="935.50" cy="1449.20" r="5.40" fill="#000" stroke="none" stroke-width="0"/>
<circle cx="943.70" cy="1449.20" r="5.40" fill="#000" stroke="none" stroke-width="0"/>
<circle cx="931.20" cy="1460.50" r="5.40" fill="#000" stroke="none" stroke-width="0"/>
<circle cx="948.20" cy="1460.50" r="5.40" fill="#000" stroke="none" stroke-width="0"/>
<circle cx="939.60" cy="1470.00" r="5.40" fill="#000" stroke="none" stroke-width="0"/>
<circle cx="939.60" cy="1499.70" r="5.40" fill="#000" stroke="none" stroke-width="0"/>
<circle cx="1095.30" cy="1380.00" r="5.40" fill="#000" stroke="none" stroke-width="0"/>
<circle cx="1103.30" cy="1384.00" r="5.40" fill="#000" stroke="none" stroke-width="0"/>
<circle cx="1112.00" cy="1384.80" r="5.40" fill="#000" stroke="none" stroke-width="0"/>
<circle cx="1103.30" cy="1394.90" r="5.40" fill="#000" stroke="none" stroke-width="0"/>
<circle cx="1103.30" cy="1415.20" r="5.40" fill="#000" stroke="none" stroke-width="0"/>
<circle cx="1103.30" cy="1434.80" r="5.40" fill="#000" stroke="none" stroke-width="0"/>
<circle cx="1259.00" cy="1271.80" r="5.40" fill="#000" stroke="none" stroke-width="0"/>
<circle cx="1274.90" cy="1269.70" r="5.40" fill="#000" stroke="none" stroke-width="0"/>
<circle cx="1266.70" cy="1310.90" r="5.40" fill="#000" stroke="none" stroke-width="0"/>
<circle cx="1266.70" cy="1396.40" r="5.40" fill="#000" stroke="none" stroke-width="0"/>
<line x1="912.80" y1="1251.20" x2="912.80" y2="1329.40" stroke="#000" stroke-width="3.6"/>
<line x1="912.80" y1="1345.10" x2="912.80" y2="1602.60" stroke="#000" stroke-width="3.6"/>
<line x1="904.00" y1="1329.40" x2="921.70" y2="1329.40" stroke="#000" stroke-width="3.6"/>
<line x1="904.00" y1="1345.10" x2="921.70" y2="1345.10" stroke="#000" stroke-width="3.6"/>
<line x1="891.90" y1="1253.00" x2="912.80" y2="1253.00" stroke="#000" stroke-width="3.6"/>
<line x1="891.90" y1="1294.30" x2="912.80" y2="1294.30" stroke="#000" stroke-width="3.6"/>
<line x1="898.70" y1="1602.60" x2="912.80" y2="1602.60" stroke="#000" stroke-width="3.6"/>
<line x1="898.70" y1="1538.20" x2="912.80" y2="1538.20" stroke="#000" stroke-width="3.6"/>
<line x1="898.70" y1="1473.80" x2="912.80" y2="1473.80" stroke="#000" stroke-width="3.6"/>
<line x1="898.70" y1="1409.40" x2="912.80" y2="1409.40" stroke="#000" stroke-width="3.6"/>
<line x1="898.60" y1="1602.60" x2="1418.00" y2="1602.60" stroke="#000" stroke-width="3.6"/>
<line x1="939.80" y1="1602.60" x2="939.80" y2="1616.80" stroke="#000" stroke-width="3.6"/>
<line x1="980.63" y1="1602.60" x2="980.63" y2="1616.80" stroke="#000" stroke-width="3.6"/>
<line x1="1021.46" y1="1602.60" x2="1021.46" y2="1616.80" stroke="#000" stroke-width="3.6"/>
<line x1="1062.29" y1="1602.60" x2="1062.29" y2="1616.80" stroke="#000" stroke-width="3.6"/>
<line x1="1103.12" y1="1602.60" x2="1103.12" y2="1616.80" stroke="#000" stroke-width="3.6"/>
<line x1="1143.95" y1="1602.60" x2="1143.95" y2="1616.80" stroke="#000" stroke-width="3.6"/>
<line x1="1184.78" y1="1602.60" x2="1184.78" y2="1616.80" stroke="#000" stroke-width="3.6"/>
<line x1="1225.61" y1="1602.60" x2="1225.61" y2="1616.80" stroke="#000" stroke-width="3.6"/>
<line x1="1266.44" y1="1602.60" x2="1266.44" y2="1616.80" stroke="#000" stroke-width="3.6"/>
<line x1="1307.27" y1="1602.60" x2="1307.27" y2="1616.80" stroke="#000" stroke-width="3.6"/>
<line x1="1348.10" y1="1602.60" x2="1348.10" y2="1616.80" stroke="#000" stroke-width="3.6"/>
<line x1="1388.93" y1="1602.60" x2="1388.93" y2="1616.80" stroke="#000" stroke-width="3.6"/>
<rect x="965.93" y="1596.10" width="29.50" height="13.00" fill="#0a0a0a" stroke="none" stroke-width="0" rx="6.5"/>
<circle cx="988.73" cy="1602.60" r="4.40" fill="#e03c3c" stroke="#0a0a0a" stroke-width="2.2"/>
<circle cx="981.93" cy="1602.60" r="4.40" fill="#e03c3c" stroke="#0a0a0a" stroke-width="2.2"/>
<circle cx="975.63" cy="1602.60" r="4.40" fill="#e03c3c" stroke="#0a0a0a" stroke-width="2.2"/>
<rect x="1006.76" y="1596.10" width="29.50" height="13.00" fill="#0a0a0a" stroke="none" stroke-width="0" rx="6.5"/>
<circle cx="1029.56" cy="1602.60" r="4.40" fill="#f0902a" stroke="#0a0a0a" stroke-width="2.2"/>
<circle cx="1022.76" cy="1602.60" r="4.40" fill="#f0902a" stroke="#0a0a0a" stroke-width="2.2"/>
<circle cx="1016.46" cy="1602.60" r="4.40" fill="#f0902a" stroke="#0a0a0a" stroke-width="2.2"/>
<rect x="1047.59" y="1596.10" width="29.50" height="13.00" fill="#0a0a0a" stroke="none" stroke-width="0" rx="6.5"/>
<circle cx="1070.39" cy="1602.60" r="4.40" fill="#e8b468" stroke="#0a0a0a" stroke-width="2.2"/>
<circle cx="1063.59" cy="1602.60" r="4.40" fill="#e8b468" stroke="#0a0a0a" stroke-width="2.2"/>
<circle cx="1057.29" cy="1602.60" r="4.40" fill="#e8b468" stroke="#0a0a0a" stroke-width="2.2"/>
<rect x="1129.25" y="1596.10" width="29.50" height="13.00" fill="#0a0a0a" stroke="none" stroke-width="0" rx="6.5"/>
<circle cx="1152.05" cy="1602.60" r="4.40" fill="#e03c3c" stroke="#0a0a0a" stroke-width="2.2"/>
<circle cx="1145.25" cy="1602.60" r="4.40" fill="#e03c3c" stroke="#0a0a0a" stroke-width="2.2"/>
<circle cx="1138.95" cy="1602.60" r="4.40" fill="#e03c3c" stroke="#0a0a0a" stroke-width="2.2"/>
<rect x="1170.08" y="1596.10" width="29.50" height="13.00" fill="#0a0a0a" stroke="none" stroke-width="0" rx="6.5"/>
<circle cx="1192.88" cy="1602.60" r="4.40" fill="#f0902a" stroke="#0a0a0a" stroke-width="2.2"/>
<circle cx="1186.08" cy="1602.60" r="4.40" fill="#f0902a" stroke="#0a0a0a" stroke-width="2.2"/>
<circle cx="1179.78" cy="1602.60" r="4.40" fill="#f0902a" stroke="#0a0a0a" stroke-width="2.2"/>
<rect x="1210.91" y="1596.10" width="29.50" height="13.00" fill="#0a0a0a" stroke="none" stroke-width="0" rx="6.5"/>
<circle cx="1233.71" cy="1602.60" r="4.40" fill="#e8b468" stroke="#0a0a0a" stroke-width="2.2"/>
<circle cx="1226.91" cy="1602.60" r="4.40" fill="#e8b468" stroke="#0a0a0a" stroke-width="2.2"/>
<circle cx="1220.61" cy="1602.60" r="4.40" fill="#e8b468" stroke="#0a0a0a" stroke-width="2.2"/>
<rect x="1292.57" y="1596.10" width="29.50" height="13.00" fill="#0a0a0a" stroke="none" stroke-width="0" rx="6.5"/>
<circle cx="1315.37" cy="1602.60" r="4.40" fill="#e03c3c" stroke="#0a0a0a" stroke-width="2.2"/>
<circle cx="1308.57" cy="1602.60" r="4.40" fill="#e03c3c" stroke="#0a0a0a" stroke-width="2.2"/>
<circle cx="1302.27" cy="1602.60" r="4.40" fill="#e03c3c" stroke="#0a0a0a" stroke-width="2.2"/>
<rect x="1333.40" y="1596.10" width="29.50" height="13.00" fill="#0a0a0a" stroke="none" stroke-width="0" rx="6.5"/>
<circle cx="1356.20" cy="1602.60" r="4.40" fill="#f0902a" stroke="#0a0a0a" stroke-width="2.2"/>
<circle cx="1349.40" cy="1602.60" r="4.40" fill="#f0902a" stroke="#0a0a0a" stroke-width="2.2"/>
<circle cx="1343.10" cy="1602.60" r="4.40" fill="#f0902a" stroke="#0a0a0a" stroke-width="2.2"/>
<rect x="1374.23" y="1596.10" width="29.50" height="13.00" fill="#0a0a0a" stroke="none" stroke-width="0" rx="6.5"/>
<circle cx="1397.03" cy="1602.60" r="4.40" fill="#e8b468" stroke="#0a0a0a" stroke-width="2.2"/>
<circle cx="1390.23" cy="1602.60" r="4.40" fill="#e8b468" stroke="#0a0a0a" stroke-width="2.2"/>
<circle cx="1383.93" cy="1602.60" r="4.40" fill="#e8b468" stroke="#0a0a0a" stroke-width="2.2"/>
<text x="888.50" y="1264.30" font-size="26.5" font-weight="normal" fill="#000" text-anchor="end">10<tspan font-size="20" dy="-10.2" font-weight="normal">8</tspan></text>
<text x="888.50" y="1305.80" font-size="26.5" font-weight="normal" fill="#000" text-anchor="end">10<tspan font-size="20" dy="-10.2" font-weight="normal">6</tspan></text>
<text x="895.00" y="1355.80" font-size="26.5" font-weight="bold" fill="#000" text-anchor="end">10<tspan font-size="20" dy="-10.2" font-weight="normal">4</tspan></text>
<text x="894.50" y="1420.60" font-size="26.5" font-weight="bold" fill="#000" text-anchor="end">10<tspan font-size="20" dy="-10.2" font-weight="normal">3</tspan></text>
<text x="894.50" y="1485.00" font-size="26.5" font-weight="bold" fill="#000" text-anchor="end">10<tspan font-size="20" dy="-10.2" font-weight="normal">2</tspan></text>
<text x="894.50" y="1549.40" font-size="26.5" font-weight="bold" fill="#000" text-anchor="end">10<tspan font-size="20" dy="-10.2" font-weight="normal">1</tspan></text>
<text x="894.50" y="1613.80" font-size="26.5" font-weight="bold" fill="#000" text-anchor="end">10<tspan font-size="20" dy="-10.2" font-weight="normal">0</tspan></text>
<text transform="translate(946.20,1626.40) rotate(-45)" x="0" y="0" font-size="25.60" font-weight="normal" fill="#000" text-anchor="end">PBS</text>
<text transform="translate(987.03,1626.40) rotate(-45)" x="0" y="0" font-size="25.60" font-weight="normal" fill="#000" text-anchor="end">5 µg</text>
<text transform="translate(1027.86,1626.40) rotate(-45)" x="0" y="0" font-size="25.60" font-weight="normal" fill="#000" text-anchor="end">1 µg</text>
<text transform="translate(1068.69,1626.40) rotate(-45)" x="0" y="0" font-size="25.60" font-weight="normal" fill="#000" text-anchor="end">0.1 µg</text>
<text transform="translate(1109.52,1626.40) rotate(-45)" x="0" y="0" font-size="25.60" font-weight="normal" fill="#000" text-anchor="end">PBS</text>
<text transform="translate(1150.35,1626.40) rotate(-45)" x="0" y="0" font-size="25.60" font-weight="normal" fill="#000" text-anchor="end">5 µg</text>
<text transform="translate(1191.18,1626.40) rotate(-45)" x="0" y="0" font-size="25.60" font-weight="normal" fill="#000" text-anchor="end">1 µg</text>
<text transform="translate(1232.01,1626.40) rotate(-45)" x="0" y="0" font-size="25.60" font-weight="normal" fill="#000" text-anchor="end">0.1 µg</text>
<text transform="translate(1272.84,1626.40) rotate(-45)" x="0" y="0" font-size="25.60" font-weight="normal" fill="#000" text-anchor="end">PBS</text>
<text transform="translate(1313.67,1626.40) rotate(-45)" x="0" y="0" font-size="25.60" font-weight="normal" fill="#000" text-anchor="end">5 µg</text>
<text transform="translate(1354.50,1626.40) rotate(-45)" x="0" y="0" font-size="25.60" font-weight="normal" fill="#000" text-anchor="end">1 µg</text>
<text transform="translate(1395.33,1626.40) rotate(-45)" x="0" y="0" font-size="25.60" font-weight="normal" fill="#000" text-anchor="end">0.1 µg</text>
<text x="994.40" y="1735.13" font-size="37.28" font-weight="bold" fill="#000" textLength="250.90" lengthAdjust="spacingAndGlyphs">CoVEXS5 dose</text>
<text x="926.77" y="1229.00" font-size="32.32" font-weight="bold" fill="#000" textLength="79.31" lengthAdjust="spacingAndGlyphs">BALF</text>
<text x="1092.29" y="1228.66" font-size="32.56" font-weight="bold" fill="#000" textLength="75.57" lengthAdjust="spacingAndGlyphs">Lung</text>
<text x="1253.82" y="1228.69" font-size="31.02" font-weight="bold" fill="#000" textLength="78.05" lengthAdjust="spacingAndGlyphs">Brain</text>
<text transform="translate(830.30,1551.44) rotate(-90)" x="0" y="0" font-size="30.00" font-weight="bold" fill="#000" textLength="254.31" lengthAdjust="spacingAndGlyphs">Viral titre (PFU/mL)</text>
</svg></body></html>
